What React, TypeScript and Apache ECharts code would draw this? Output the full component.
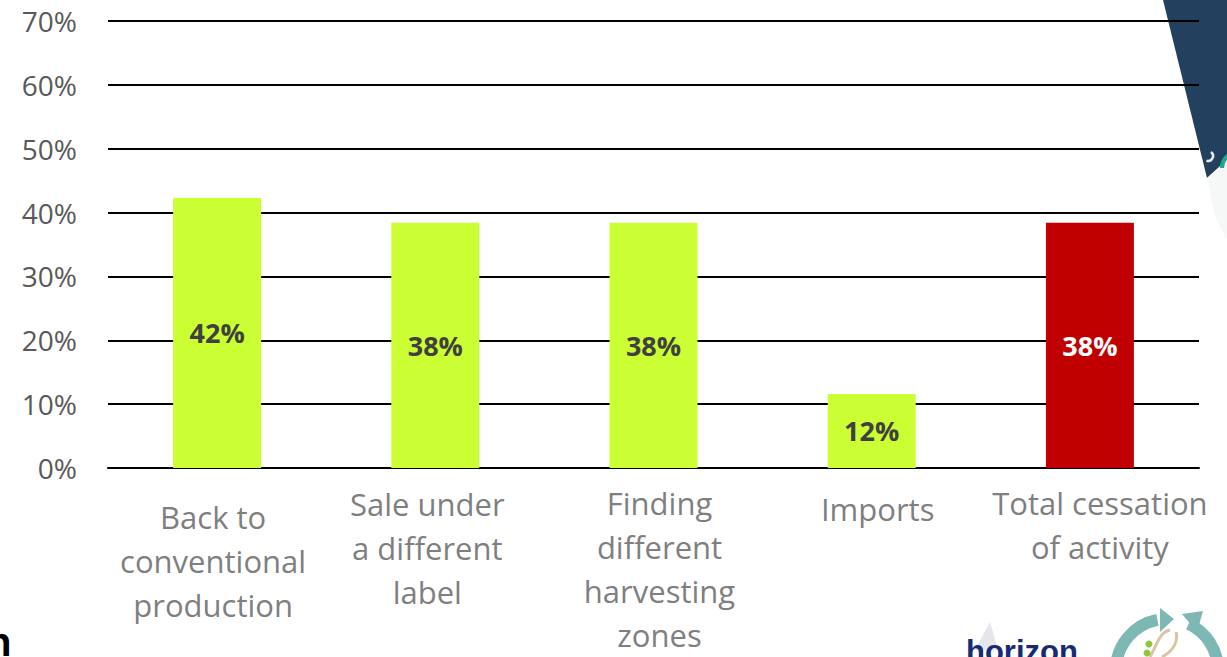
import React, { useEffect, useRef } from "react";
import * as echarts from "echarts";

const categories = [
  "Back to\nconventional\nproduction",
  "Sale under\na different\nlabel",
  "Finding\ndifferent\nharvesting\nzones",
  "Imports",
  "Total cessation\nof activity",
];
const values = [42.3, 38.4, 38.4, 11.6, 38.4];
const highlightedCategory = "Total cessation\nof activity";
const yMin = 0;
const yMax = 70;
const yStep = 10;

// per-category fine-tuning of label block placement [top, right, bottom, left]
const labelPads = [
  [14, 8, 0, 0],
  [1, 16, 0, 0],
  [0, 0, 0, 12],
  [6, 0, 0, 12],
  [0, 0, 0, 20],
];

export default function App() {
  const ref = useRef<HTMLDivElement>(null);
  useEffect(() => {
    if (!ref.current) return;
    const chart = echarts.init(ref.current, undefined, { renderer: "svg" });
    const font = "'Open Sans', 'Noto Sans', sans-serif";
    const option = {
      animation: false,
      backgroundColor: "#ffffff",
      grid: { left: 108, width: 1091, top: 21, height: 451, containLabel: false },
      xAxis: {
        type: "category",
        data: categories.map((c, i) => ({
          value: c,
          textStyle: { padding: labelPads[i] },
        })),
        axisLine: { show: true, lineStyle: { color: "#000000", width: 2 } },
        axisTick: { show: false },
        axisLabel: {
          interval: 0,
          fontSize: 31,
          fontFamily: font,
          color: "#7f7f7f",
          lineHeight: 44,
          margin: 13,
          verticalAlign: "top",
        },
      },
      yAxis: {
        type: "value",
        min: yMin,
        max: yMax,
        interval: yStep,
        axisLine: { show: false },
        axisTick: { show: false },
        splitLine: { lineStyle: { color: "#000000", width: 2 } },
        axisLabel: {
          formatter: "{value}%",
          fontSize: 28,
          fontFamily: font,
          color: "#595959",
          margin: 31,
        },
      },
      series: [
        {
          type: "bar",
          barWidth: 88,
          data: values.map((v, i) => {
            const hi = categories[i] === highlightedCategory;
            return {
              value: v,
              itemStyle: { color: hi ? "#c00000" : "#ccff33" },
              label: { color: hi ? "#ffffff" : "#404040" },
            };
          }),
          label: {
            show: true,
            position: "inside",
            fontSize: 27,
            fontWeight: "bold",
            fontFamily: font,
            formatter: (p: any) => Math.round(p.value) + "%",
          },
        },
      ],
      graphic: [
        {
          type: "polygon",
          shape: { points: [[1163, 0], [1227, 0], [1227, 160], [1207, 178]] },
          style: { fill: "#24405f" },
        },
        {
          type: "polygon",
          shape: { points: [[1207, 178], [1227, 160], [1227, 240], [1215, 215]] },
          style: { fill: "#f6f7f7" },
        },
        {
          type: "arc",
          shape: { cx: 1238, cy: 168, r: 16, startAngle: Math.PI * 1.0, endAngle: Math.PI * 1.45 },
          style: { stroke: "#1fa98f", lineWidth: 4, fill: null },
        },
        {
          type: "arc",
          shape: { cx: 1208, cy: 156, r: 5, startAngle: -Math.PI * 0.3, endAngle: Math.PI * 0.6 },
          style: { stroke: "#e8eef0", lineWidth: 2.5, fill: null },
        },
        {
          type: "polygon",
          shape: { points: [[975, 650], [990, 622], [998, 650]] },
          style: { fill: "#e4e6ea" },
        },
        {
          type: "text",
          style: {
            text: "horizon",
            x: 966,
            y: 636,
            fontSize: 31,
            fontWeight: "bold",
            fontFamily: "'Liberation Sans', Arial, sans-serif",
            fill: "#172a74",
          },
        },
        {
          type: "arc",
          shape: { cx: 1167, cy: 670, r: 51, startAngle: -Math.PI * 0.56, endAngle: Math.PI * 1.0, clockwise: false },
          style: { stroke: "#7db8b5", lineWidth: 12, fill: null },
        },
        {
          type: "arc",
          shape: { cx: 1167, cy: 670, r: 51, startAngle: -Math.PI * 0.36, endAngle: 0, clockwise: true },
          style: { stroke: "#7db8b5", lineWidth: 12, fill: null },
        },
        {
          type: "polygon",
          shape: { points: [[1160, 608], [1174, 619], [1160, 632]] },
          style: { fill: "#7db8b5" },
        },
        {
          type: "polygon",
          shape: { points: [[1182, 614], [1203, 611], [1197, 632]] },
          style: { fill: "#7db8b5" },
        },
        {
          type: "bezierCurve",
          shape: { x1: 1150, y1: 657, x2: 1170, y2: 630, cpx1: 1158, cpy1: 642, cpx2: 1160, cpy2: 632 },
          style: { stroke: "#d9c4a3", lineWidth: 3, fill: null },
        },
        {
          type: "bezierCurve",
          shape: { x1: 1162, y1: 657, x2: 1176, y2: 632, cpx1: 1175, cpy1: 650, cpx2: 1178, cpy2: 640 },
          style: { stroke: "#d9c4a3", lineWidth: 3, fill: null },
        },
        { type: "circle", shape: { cx: 1149, cy: 644, r: 3.5 }, style: { fill: "#8cc63f" } },
        { type: "circle", shape: { cx: 1147, cy: 653, r: 3.5 }, style: { fill: "#8cc63f" } },
        {
          type: "text",
          style: {
            text: "n",
            x: -13,
            y: 622,
            fontSize: 40,
            fontWeight: "bold",
            fontFamily: "'Liberation Sans', Arial, sans-serif",
            fill: "#000000",
          },
        },
      ],
    };
    chart.setOption(option as any);
    return () => chart.dispose();
  }, []);
  return (
    <div
      ref={ref}
      style={{ position: "fixed", left: 0, top: 0, width: 1227, height: 657, overflow: "hidden" }}
    />
  );
}
